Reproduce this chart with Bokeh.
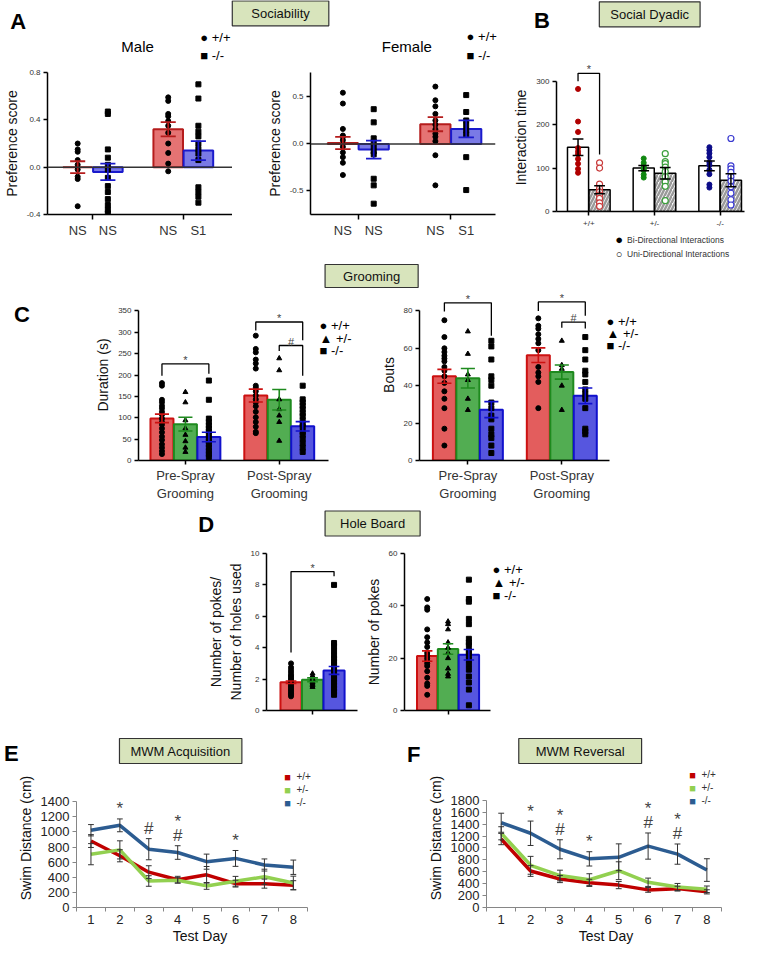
from bokeh.plotting import figure
from bokeh.models import Range1d, FixedTicker, Label, Span, NumeralTickFormatter
from bokeh.layouts import column, row
from bokeh.embed import file_html
from bokeh.resources import INLINE

# ======================= DATA =======================
# --- A: Sociability, preference score (bars: +/+ NS, -/- NS, +/+ NS, -/- S1)
soc_xlabels = ["NS", "NS", "NS", "S1"]
soc_markers = ["circle", "square", "circle", "square"]
male_mean = [0.00, -0.04, 0.32, 0.14]
male_sem = [0.05, 0.07, 0.06, 0.08]
male_wt_a = [0.20, 0.15, 0.13, 0.06, 0.02, -0.02, -0.08, -0.10, -0.33]
male_ko_a = [0.47, 0.45, 0.15, 0.08, 0.02, -0.02, -0.09, -0.16, -0.21, -0.27, -0.32, -0.36, -0.39]
male_wt_b = [0.59, 0.56, 0.45, 0.43, 0.39, 0.35, 0.29, 0.20, 0.12, 0.03, -0.035]
male_ko_b = [0.70, 0.58, 0.35, 0.30, 0.26, 0.20, 0.155, 0.115, 0.06, -0.17, -0.21, -0.25, -0.30]
female_mean = [0.01, -0.06, 0.21, 0.16]
female_sem = [0.065, 0.095, 0.075, 0.09]
female_wt_a = [0.545, 0.43, 0.16, 0.09, 0.075, 0.04, -0.03, -0.09, -0.14, -0.20, -0.33]
female_ko_a = [0.37, 0.23, 0.06, 0.02, -0.03, -0.08, -0.11, -0.37, -0.44, -0.635]
female_wt_b = [0.61, 0.465, 0.40, 0.32, 0.25, 0.205, 0.156, 0.11, 0.076, 0.03, -0.12, -0.44]
female_ko_b = [0.52, 0.34, 0.25, 0.20, 0.146, 0.10, -0.14, -0.49]

# --- B: Social dyadic, interaction time
dyad_genotypes = ["+/+", "+/-", "-/-"]
bi_mean = [148, 100, 105]
bi_sem = [19, 6, 11]
uni_mean = [50, 88, 72]
uni_sem = [9, 13, 15]
bi_pts_wt = [282, 207, 183, 146, 138, 132, 121, 110, 98, 89]
uni_pts_wt = [112, 100, 63, 53, 45, 38, 30, 20, 12]
bi_pts_het = [122, 112, 105, 101, 98, 95, 85, 78]
uni_pts_het = [133, 115, 110, 102, 92, 80, 68, 58, 25]
bi_pts_ko = [148, 141, 134, 125, 113, 107, 96, 86, 62, 55]
uni_pts_ko = [168, 105, 98, 90, 80, 70, 57, 42, 27, 15]
dyad_bracket = [0, 300, 318, 131, "*"]  # group, left end, top, right end, symbol

# --- C: Grooming
groom_phases = ["Pre-Spray\nGrooming", "Post-Spray\nGrooming"]
dur_pre_mean = [98.5, 85, 55]
dur_pre_sem = [10, 16, 11]
dur_post_mean = [152, 142, 80]
dur_post_sem = [15, 24, 11]
dur_pre_wt = [181, 175, 142, 136, 128, 122, 114, 107, 98, 90, 84, 75, 66, 56, 48, 38, 30, 22, 15]
dur_pre_het = [160, 136, 94, 75, 60, 45, 30, 20]
dur_pre_ko = [187, 142, 98, 90, 82, 75, 68, 60, 52, 45, 38, 30, 22, 15, 8]
dur_post_wt = [292, 261, 253, 236, 227, 215, 175, 170, 162, 152, 143, 136, 127, 114, 101, 90, 79, 67, 64]
dur_post_het = [239, 211, 143, 120, 105, 90, 46]
dur_post_ko = [175, 143, 136, 128, 120, 111, 104, 94, 86, 79, 67, 60, 51, 40, 30, 20]
dur_brackets = [[0, 0, 2, 198, 226, 203, "*"], [1, 0, 2, 304, 324, 281, "*"], [1, 1, 2, 256, 269, 198, "#"]]
bout_pre_mean = [45, 44, 27.2]
bout_pre_sem = [3.7, 5.2, 4.3]
bout_post_mean = [56.3, 47.3, 34.6]
bout_post_sem = [3.9, 3.8, 4.2]
bout_pre_wt = [75, 66, 60, 58, 56, 54.5, 53, 50, 48, 45, 41.5, 37, 33, 28, 17, 8]
bout_pre_het = [69, 57, 46, 43, 33, 27]
bout_pre_ko = [64, 61, 54, 45, 43, 40, 31, 28, 24, 22, 17, 14, 12, 8, 4]
bout_post_wt = [76, 72, 70.5, 67.5, 65, 62.7, 59, 50, 47, 45, 42, 28]
bout_post_het = [64, 51, 49, 40, 27]
bout_post_ko = [66, 59, 54, 48, 46, 42, 38, 35.5, 33, 28, 17, 15.6, 14]
bout_brackets = [[0, 0, 2, 79.6, 84.3, 66.7, "*"], [1, 0, 2, 80, 84.8, 77.4, "*"], [1, 1, 2, 71, 74, 70.6, "#"]]

# --- D: Hole board
ratio_mean = [1.8, 1.96, 2.55]
ratio_sem = [0.08, 0.12, 0.25]
ratio_wt = [3.0, 2.75, 2.6, 2.45, 2.3, 2.2, 2.1, 2.0, 1.9, 1.8, 1.7, 1.6, 1.5, 1.4, 1.3, 1.2, 1.1, 1.0, 0.9]
ratio_het = [2.35, 2.2, 2.1, 2.0, 1.95, 1.9, 1.8, 1.7, 1.6, 1.5]
ratio_ko = [8.0, 4.3, 4.1, 3.8, 3.5, 3.3, 3.1, 2.9, 2.7, 2.5, 2.4, 2.2, 2.0, 1.8, 1.6, 1.4, 1.2, 1.0]
ratio_bracket = [0, 2, 3.7, 8.85, 8.55, "*"]
pokes_mean = [20.8, 23.5, 21.3]
pokes_sem = [2.0, 2.0, 2.0]
pokes_wt = [42.6, 39.4, 38.5, 31, 28, 26, 24.3, 22, 21, 20, 19, 18, 17, 15, 12.5, 10.3, 9.4, 6]
pokes_het = [34, 33, 31, 26, 24, 22, 20, 16, 14, 13]
pokes_ko = [50, 42.6, 41.6, 35, 33, 27.4, 26, 25, 23, 22, 21, 19.3, 17.5, 15.6, 13, 10.7, 8, 2]

# --- E / F: Morris water maze, swim distance (cm)
test_days = [1, 2, 3, 4, 5, 6, 7, 8]
acq_wt_mean = [880, 685, 468, 368, 433, 316, 316, 295]
acq_wt_sem = [85, 80, 85, 45, 110, 45, 60, 60]
acq_het_mean = [706, 763, 351, 360, 286, 347, 407, 325]
acq_het_sem = [140, 120, 70, 35, 45, 65, 100, 90]
acq_ko_mean = [1023, 1088, 772, 728, 607, 650, 563, 533]
acq_ko_sem = [75, 85, 140, 90, 100, 105, 80, 95]
acq_sig = [[2, "*"], [3, "#"], [4, "#"], [4, "*"], [6, "*"]]
rev_wt_mean = [1150, 613, 478, 414, 376, 296, 317, 263]
rev_wt_sem = [95, 90, 60, 60, 60, 40, 40, 35]
rev_het_mean = [1247, 709, 537, 467, 618, 424, 344, 306]
rev_het_sem = [110, 150, 90, 100, 150, 70, 60, 55]
rev_ko_mean = [1424, 1247, 978, 817, 844, 1032, 897, 629]
rev_ko_sem = [160, 205, 160, 120, 225, 220, 170, 190]
rev_sig = [[2, "*"], [3, "#"], [3, "*"], [4, "*"], [6, "#"], [6, "*"], [7, "#"], [7, "*"]]

# ======================= STYLE / LAYOUT =======================
FONT = "Liberation Sans"
SX = 753 / 769
SY = 946 / 962


def X(r):
    return int(round(r * SX))


def Y(r):
    return int(round(r * SY))


def lin(v0, p0, v1, p1, q):
    """data value found at reference pixel q, given two (value, pixel) anchors"""
    return v0 + (q - p0) * (v1 - v0) / (p1 - p0)


class Panel:
    def __init__(self, box, frame, xr, yr, xb=None, yb=None):
        self.box, self.frame = box, frame
        self.xb, self.yb = xb, yb
        fx0, fy0, fx1, fy1 = box
        rx0, ry0, rx1, ry1 = frame
        self.p = figure(width=X(fx1) - X(fx0), height=Y(fy1) - Y(fy0),
                        x_range=Range1d(*xr), y_range=Range1d(*yr),
                        min_border_left=X(rx0) - X(fx0), min_border_right=X(fx1) - X(rx1),
                        min_border_top=Y(ry0) - Y(fy0), min_border_bottom=Y(fy1) - Y(ry1),
                        output_backend="svg", toolbar_location=None)
        self.p.outline_line_color = None
        self.p.grid.visible = False

    def bounds(self):
        if self.xb:
            self.p.xaxis[0].bounds = self.xb
        if self.yb:
            self.p.yaxis[0].bounds = self.yb

    def lab(self, rx, ry, text, size="13px", align="left", baseline="middle", color="black",
            bold=False):
        self.p.add_layout(Label(x=X(rx) - X(self.frame[0]), y=Y(self.frame[3]) - Y(ry),
                                x_units="screen", y_units="screen", text=text,
                                text_font=FONT, text_font_size=size, text_align=align,
                                text_baseline=baseline, text_color=color,
                                text_font_style="bold" if bold else "normal"))


def strip(x0, x1, y0, y1):
    p = figure(width=X(x1) - X(x0), height=Y(y1) - Y(y0), x_range=Range1d(x0, x1),
               y_range=Range1d(y1, y0), x_axis_type=None, y_axis_type=None, min_border=0,
               output_backend="svg", toolbar_location=None)
    p.outline_line_color = None
    return p


def text(p, x, y, t, size="13px", align="left", color="black", bold=False):
    p.add_layout(Label(x=x, y=y, text=t, text_font=FONT, text_font_size=size,
                       text_align=align, text_baseline="middle", text_color=color,
                       text_font_style="bold" if bold else "normal"))


def heading(p, cx, cy, t, padx, pady=5):
    p.add_layout(Label(x=cx, y=cy, text=t, text_font=FONT, text_font_size="13px",
                       text_align="center", text_baseline="middle", text_color="#111",
                       background_fill_color="#d8e4bc", border_line_color="#333333",
                       border_line_width=1.2,
                       padding=dict(left=padx, right=padx, top=pady, bottom=pady)))


def letter(p, x, y, t):
    text(p, x, y, t, size="22px", align="center", bold=True)


def style(p, ylabel=None, xlabel=None, xfont="13px", yfont="8px", label_size="14px",
          axis_color="black", tick_color="#333", axis_w=1.5):
    for ax in (p.xaxis[0], p.yaxis[0]):
        ax.axis_line_color = axis_color
        ax.axis_line_width = axis_w
        ax.major_tick_line_color = axis_color
        ax.major_tick_line_width = axis_w
        ax.major_tick_out = 4
        ax.major_tick_in = 0
        ax.minor_tick_line_color = None
        ax.major_label_text_font = FONT
        ax.major_label_text_color = tick_color
        ax.axis_label_text_font = FONT
        ax.axis_label_text_font_style = "normal"
        ax.axis_label_text_font_size = label_size
        ax.axis_label_text_color = "#111"
        ax.major_label_standoff = 3
        ax.axis_label_standoff = 4
    p.xaxis[0].major_label_text_font_size = xfont
    p.yaxis[0].major_label_text_font_size = yfont
    p.yaxis[0].axis_label = ylabel
    p.xaxis[0].axis_label = xlabel


def cat_axis(p, ticks, labels, group_ticks=None, color="black"):
    ax = p.xaxis[0]
    ax.ticker = FixedTicker(ticks=ticks, minor_ticks=group_ticks or [])
    ax.major_label_overrides = {float(t): l for t, l in zip(ticks, labels)}
    ax.major_tick_line_color = None
    if group_ticks:
        ax.minor_tick_line_color = color
        ax.minor_tick_line_width = 1.5
        ax.minor_tick_out = 5
        ax.minor_tick_in = 0


def errorbars(p, xs, means, sems, colors, cap, lw=1.5):
    lo = [m - s for m, s in zip(means, sems)]
    hi = [m + s for m, s in zip(means, sems)]
    p.segment(x0=xs, y0=lo, x1=xs, y1=hi, line_color=colors, line_width=lw)
    for yy in (lo, hi):
        p.segment(x0=[x - cap / 2 for x in xs], y0=yy, x1=[x + cap / 2 for x in xs], y1=yy,
                  line_color=colors, line_width=lw)


def points(p, x, vals, marker, color="black", size=5, fill=None, lw=1):
    p.scatter(x=[x] * len(vals), y=vals, marker=marker, size=size, line_color=color,
              fill_color=color if fill is None else fill, line_width=lw)


def bracket(pn, x0, x1, yl, top, yr, sym, size="11px"):
    pn.p.line([x0, x0, x1, x1], [yl, top, top, yr], line_color="black", line_width=1.3)
    pn.p.add_layout(Label(x=(x0 + x1) / 2, y=top, text=sym, text_font=FONT, text_font_size=size,
                          text_align="center", text_baseline="bottom", y_offset=-2))


A_FILL = ["#e57373", "#7a7ae6"]
A_LINE = ["#b51c1c", "#1a1acc"]
G_FILL = ["#e35d5d", "#52ad52", "#5656df"]
G_LINE = ["#cc1111", "#1e8a1e", "#1111cc"]
MK3 = ["circle", "triangle", "square"]

# ======================= HEADING STRIPS =======================
s1 = strip(0, 769, 0, 64)
letter(s1, 18, 21, "A")
letter(s1, 553, 20, "B")
heading(s1, 286, 13, "Sociability", 19)
heading(s1, 663, 14, "Social Dyadic", 11)
text(s1, 140, 47, "Male", size="15px", align="center")
text(s1, 204, 38, "\u25cf +/+")
text(s1, 204, 56, "\u25a0 -/-")
text(s1, 415, 47, "Female", size="15px", align="center")
text(s1, 476, 37, "\u25cf +/+")
text(s1, 476, 56, "\u25a0 -/-")

s2 = strip(0, 769, 266, 294)
heading(s2, 379, 280, "Grooming", 18, 4)

s3 = strip(0, 769, 512, 549)
letter(s3, 210, 533, "D")
heading(s3, 380, 532, "Hole Board", 15)

s4 = strip(0, 769, 745, 781)
letter(s4, 11, 766, "E")
letter(s4, 422, 767, "F")
heading(s4, 184, 763, "MWM Acquisition", 11)
heading(s4, 592, 763, "MWM Reversal", 17)

# ======================= PANEL A =======================
soc_x = [1 + 3 * (i // 2) + (i % 2) for i in range(4)]
soc_groups = [1.5, 4.5]


def soc_panel(box, frame, xr, yr, means, sems, pts, yticks):
    pn = Panel(box, frame, xr, yr)
    p = pn.p
    style(p, ylabel="Preference score")
    p.yaxis[0].ticker = FixedTicker(ticks=yticks)
    p.yaxis[0].formatter = NumeralTickFormatter(format="0.0")
    cat_axis(p, soc_x, soc_xlabels, soc_groups)
    fills = [A_FILL[i % 2] for i in range(4)]
    lines = [A_LINE[i % 2] for i in range(4)]
    p.vbar(x=soc_x, top=means, bottom=0, width=0.98, fill_color=fills, line_color=lines,
           line_width=2)
    p.add_layout(Span(location=0, dimension="width", line_color="#333", line_width=1.5))
    for x, vals, mk in zip(soc_x, pts, soc_markers):
        points(p, x, vals, mk, size=5)
    errorbars(p, soc_x, means, sems, lines, 0.5, lw=1.8)
    return pn


am = soc_panel((0, 64, 237, 266), (47, 73, 237, 220), (0.0, 6.13), (-0.4, 0.8),
               male_mean, male_sem, [male_wt_a, male_ko_a, male_wt_b, male_ko_b],
               [-0.4, 0.0, 0.4, 0.8])
af = soc_panel((237, 64, 508, 266), (317, 73, 506, 218), (-0.05, 5.95), (-0.75, 0.76),
               female_mean, female_sem, [female_wt_a, female_ko_a, female_wt_b, female_ko_b],
               [-0.5, 0.0, 0.5])

# ======================= PANEL B =======================
bd = Panel((508, 64, 769, 236), (568, 64, 760, 215), (0, 8.73),
           (0, lin(0, 215, 300, 82, 64)), yb=(0, 300))
pb = bd.p
style(pb, ylabel="Interaction time")
pb.yaxis[0].ticker = FixedTicker(ticks=[0, 100, 200, 300])
bd.bounds()
GSP = 3.05
bi_x = [1 + GSP * g for g in range(3)]
uni_x = [2 + GSP * g for g in range(3)]
grp_x = [1.5 + GSP * g for g in range(3)]
cat_axis(pb, grp_x, dyad_genotypes)
pb.xaxis[0].major_label_text_font_size = "8px"
pb.xaxis[0].major_tick_line_color = "black"
pb.vbar(x=bi_x, top=bi_mean, width=0.98, fill_color="white", line_color="black", line_width=1.5)
pb.vbar(x=uni_x, top=uni_mean, width=0.98, fill_color="white", line_color="black", line_width=1.5,
        hatch_pattern="/", hatch_color="#9a9a9a", hatch_weight=2.5, hatch_scale=7)
BI_COL = ["#b00000", "#118811", "#0c0c88"]
UNI_COL = ["#c83a3a", "#3b9f3b", "#3a3ad0"]
for g, (bp, up) in enumerate([(bi_pts_wt, uni_pts_wt), (bi_pts_het, uni_pts_het),
                              (bi_pts_ko, uni_pts_ko)]):
    points(pb, bi_x[g], bp, "circle", color=BI_COL[g], size=5)
    points(pb, uni_x[g], up, "circle", color=UNI_COL[g], size=6, fill="white", lw=1.2)
errorbars(pb, bi_x, bi_mean, bi_sem, "black", 0.5, lw=1.5)
errorbars(pb, uni_x, uni_mean, uni_sem, "black", 0.5, lw=1.5)
g, yl, top, yr, sym = dyad_bracket
bracket(bd, bi_x[g], uni_x[g], yl, top, yr, sym)

bleg = strip(508, 769, 236, 266)
text(bleg, 595, 243, "\u25cf", size="13px", align="center")
text(bleg, 606, 243, "Bi-Directional Interactions", size="8.5px", color="#333")
text(bleg, 595, 257, "\u25cb", size="11px", align="center")
text(bleg, 606, 257, "Uni-Directional Interactions", size="8.5px", color="#333")

# ======================= PANEL C =======================
c_x = [[1 + 4 * ph + k for k in range(3)] for ph in range(2)]
c_grp = [2 + 4 * ph for ph in range(2)]


def groom_panel(box, frame, xr, yr, xb, yb, means, sems, pts, brackets, yticks, ylabel, lx, ly):
    pn = Panel(box, frame, xr, yr, xb, yb)
    p = pn.p
    style(p, ylabel=ylabel)
    p.yaxis[0].ticker = FixedTicker(ticks=yticks)
    cat_axis(p, c_grp, groom_phases)
    p.xaxis[0].major_tick_line_color = "black"
    pn.bounds()
    for ph in range(2):
        p.vbar(x=c_x[ph], top=means[ph], width=0.98, fill_color=G_FILL, line_color=G_LINE,
               line_width=2)
        for k in range(3):
            points(p, c_x[ph][k], pts[ph][k], MK3[k], size=5)
        errorbars(p, c_x[ph], means[ph], sems[ph], G_LINE, 0.6, lw=1.6)
    for ph, i, j, yl_, top_, yr_, sym_ in brackets:
        bracket(pn, c_x[ph][i], c_x[ph][j], yl_, top_, yr_, sym_)
    pn.lab(lx, ly, "\u25cf +/+")
    pn.lab(lx, ly + 12.5, "\u25b2 +/-")
    pn.lab(lx, ly + 25, "\u25a0 -/-")
    return pn


cfig = strip(0, 90, 294, 512)
letter(cfig, 22, 326, "C")
cl = groom_panel((90, 294, 385, 512), (141, 294, 362, 470),
                 (0, lin(0, 141, 1, 165, 362)), (0, lin(0, 470, 350, 316, 294)),
                 (0, 8.08), (0, 350),
                 [dur_pre_mean, dur_post_mean], [dur_pre_sem, dur_post_sem],
                 [[dur_pre_wt, dur_pre_het, dur_pre_ko], [dur_post_wt, dur_post_het, dur_post_ko]],
                 dur_brackets, list(range(0, 351, 50)), "Duration (s)", 326, 333)
cr = groom_panel((385, 294, 769, 512), (428, 294, 660, 470),
                 (-0.06, lin(-0.06, 428, 0.94, 452, 660)), (0, lin(0, 470, 80, 316, 294)),
                 (-0.06, 8.02), (0, 80),
                 [bout_pre_mean, bout_post_mean], [bout_pre_sem, bout_post_sem],
                 [[bout_pre_wt, bout_pre_het, bout_pre_ko],
                  [bout_post_wt, bout_post_het, bout_post_ko]],
                 bout_brackets, [0, 20, 40, 60, 80], "Bouts", 619, 328)

# ======================= PANEL D =======================
d_x = [1, 2, 3]


def hole_panel(box, frame, xr, yr, xb, means, sems, pts, yticks, ylabel):
    pn = Panel(box, frame, xr, yr, xb=xb)
    p = pn.p
    style(p, ylabel=ylabel)
    p.yaxis[0].ticker = FixedTicker(ticks=yticks)
    cat_axis(p, [2], [""])
    p.xaxis[0].major_tick_line_color = "black"
    pn.bounds()
    p.vbar(x=d_x, top=means, width=0.98, fill_color=G_FILL, line_color=G_LINE, line_width=2)
    for k in range(3):
        points(p, d_x[k], pts[k], MK3[k], size=5)
    errorbars(p, d_x, means, sems, G_LINE, 0.5, lw=1.6)
    return pn


dl = hole_panel((0, 549, 370, 745), (272, 562, 365, 722), (-0.14, 4.09), (0, 10), None,
                ratio_mean, ratio_sem, [ratio_wt, ratio_het, ratio_ko], [0, 2, 4, 6, 8, 10],
                "Number of pokes/\nNumber of holes used")
i, j, yl, top, yr, sym = ratio_bracket
bracket(dl, d_x[i], d_x[j], yl, top, yr, sym)
dr = hole_panel((370, 549, 769, 745), (408, 562, 540, 722),
                (-0.09, lin(-0.09, 408, 0.91, 430, 540)), (0, 60), (-0.09, 4.05),
                pokes_mean, pokes_sem, [pokes_wt, pokes_het, pokes_ko], [0, 20, 40, 60],
                "Number of pokes")
dr.lab(498, 579, "\u25cf +/+")
dr.lab(498, 592, "\u25b2 +/-")
dr.lab(498, 605, "\u25a0 -/-")

# ======================= PANELS E / F =======================
L_COL = ["#c00000", "#92d050", "#2c5c91"]
L_NAMES = ["+/+", "+/-", "-/-"]


def mwm_panel(box, frame, xr, yr, yticks, series, sig, lx, ly):
    pn = Panel(box, frame, xr, yr, xb=(0.5, 8.5), yb=(0, yticks[-1]))
    p = pn.p
    style(p, ylabel="Swim Distance (cm)", xlabel="Test Day", xfont="13px", yfont="13px",
          label_size="14px", axis_color="#868686", tick_color="#222", axis_w=1)
    p.yaxis[0].ticker = FixedTicker(ticks=yticks)
    p.xaxis[0].ticker = FixedTicker(ticks=test_days, minor_ticks=[d - 0.5 for d in test_days] + [8.5])
    p.xaxis[0].major_tick_line_color = None
    p.xaxis[0].minor_tick_line_color = "#868686"
    p.xaxis[0].minor_tick_out = 4
    p.xaxis[0].minor_tick_in = 0
    p.xaxis[0].axis_label_standoff = 1
    pn.bounds()
    for (m, s), c in zip(series, L_COL):
        p.line(test_days, m, line_color=c, line_width=3.5)
    for (m, s), c in zip(series, L_COL):
        errorbars(p, test_days, m, s, "#333333", 0.2, lw=1)
    ko_m, ko_s = series[2]
    count = {}
    for d, sym_ in sig:
        k = count.get(d, 0)
        count[d] = k + 1
        up = ko_m[d - 1] + ko_s[d - 1]
        p.add_layout(Label(x=d, y=up, text=sym_, text_font=FONT, text_font_size="17px",
                           text_align="center", text_baseline="middle",
                           y_offset=10 + 14 * k))
    for k, (c, nm) in enumerate(zip(L_COL, L_NAMES)):
        pn.lab(lx, ly + 13.5 * k, "\u25a0", size="11px", align="center", color=c)
        pn.lab(lx + 9, ly + 13.5 * k, nm, size="10px", color="#333")
    return pn


ep = mwm_panel((0, 781, 385, 962), (78, 781, 330, 923),
               (0.5, lin(1, 93.3, 8, 299.3, 330)), (0, lin(0, 923, 1400, 815, 781)),
               list(range(0, 1401, 200)),
               [(acq_wt_mean, acq_wt_sem), (acq_het_mean, acq_het_sem), (acq_ko_mean, acq_ko_sem)],
               acq_sig, 293, 790)
fp = mwm_panel((385, 781, 769, 962), (496, 781, 740, 925),
               (0.5, lin(1, 511, 8, 721, 740)), (0, lin(0, 925, 1800, 814, 781)),
               list(range(0, 1801, 200)),
               [(rev_wt_mean, rev_wt_sem), (rev_het_mean, rev_het_sem), (rev_ko_mean, rev_ko_sem)],
               rev_sig, 707, 790)

layout = column(s1, row(am.p, af.p, column(bd.p, bleg)), s2, row(cfig, cl.p, cr.p), s3,
                row(dl.p, dr.p), s4, row(ep.p, fp.p))

open("out.html", "w").write(file_html(layout, INLINE))
